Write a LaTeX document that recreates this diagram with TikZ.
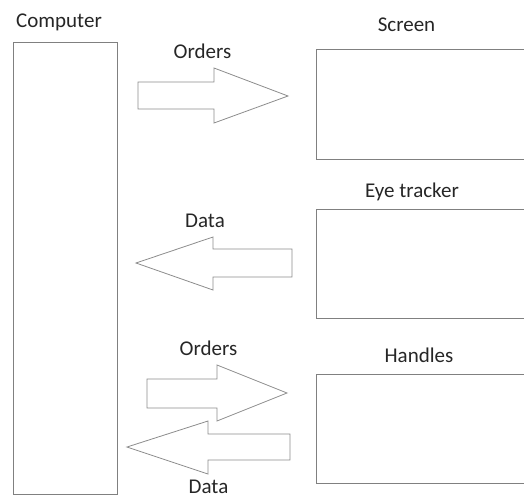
\documentclass[tikz,border=0pt]{standalone}
\usepackage{fontspec}
\setmainfont{Carlito}

\tikzset{
	box/.style={draw=black!50, line width=0.9pt, inner sep=0pt},
	blockarrow/.style={draw=black!45, line width=0.8pt, line join=miter},
	lbl/.style={anchor=base, inner sep=0pt, text=black!85, font=\fontsize{21}{25}\selectfont}
}

\begin{document}
\begin{tikzpicture}[x=1pt, y=-1pt]
			
			\clip (0,0) rectangle (524,498);
			
			% boxes
			\node (computer) [box, minimum width=104pt, minimum height=452pt] at (65,268) {};
			\node (screen)   [box, minimum width=214pt, minimum height=110pt] at (423,104) {};
			\node (eye)      [box, minimum width=214pt, minimum height=109pt] at (423,263.5) {};
			\node (handles)  [box, minimum width=214pt, minimum height=109pt] at (423,428.5) {};
			
			\node (computerlbl) [lbl] at (59,27)  {Computer};
			\node (screenlbl)   [lbl] at (406.5,31) {Screen};
			\node (eyelbl)      [lbl] at (412,197) {Eye tracker};
			\node (handleslbl)  [lbl] at (419,362) {Handles};
			
			% block arrows
			\draw[blockarrow] (138,82) -- (214,82) -- (214,68) -- (288,96) -- (214,123) -- (214,109) -- (138,109) -- cycle;
			\draw[blockarrow] (292,249) -- (213,249) -- (213,237) -- (136,263) -- (213,290) -- (213,277) -- (292,277) -- cycle;
			\draw[blockarrow] (147,379) -- (217,379) -- (217,365) -- (287,393) -- (217,421) -- (217,408) -- (147,408) -- cycle;
			\draw[blockarrow] (290,434) -- (208,434) -- (208,421) -- (127,447) -- (208,474) -- (208,460) -- (290,460) -- cycle;
			
			\node (orderslbl) [lbl] at (202.5,58) {Orders};
			\node (datalbl)   [lbl] at (205,227)  {Data};
			\node (orders2lbl) [lbl] at (208.5,355) {Orders};
			\node (data2lbl)  [lbl] at (208.5,493) {Data};
			%\node[below] at (eye.south) {};
			
\end{tikzpicture}
\end{document}
